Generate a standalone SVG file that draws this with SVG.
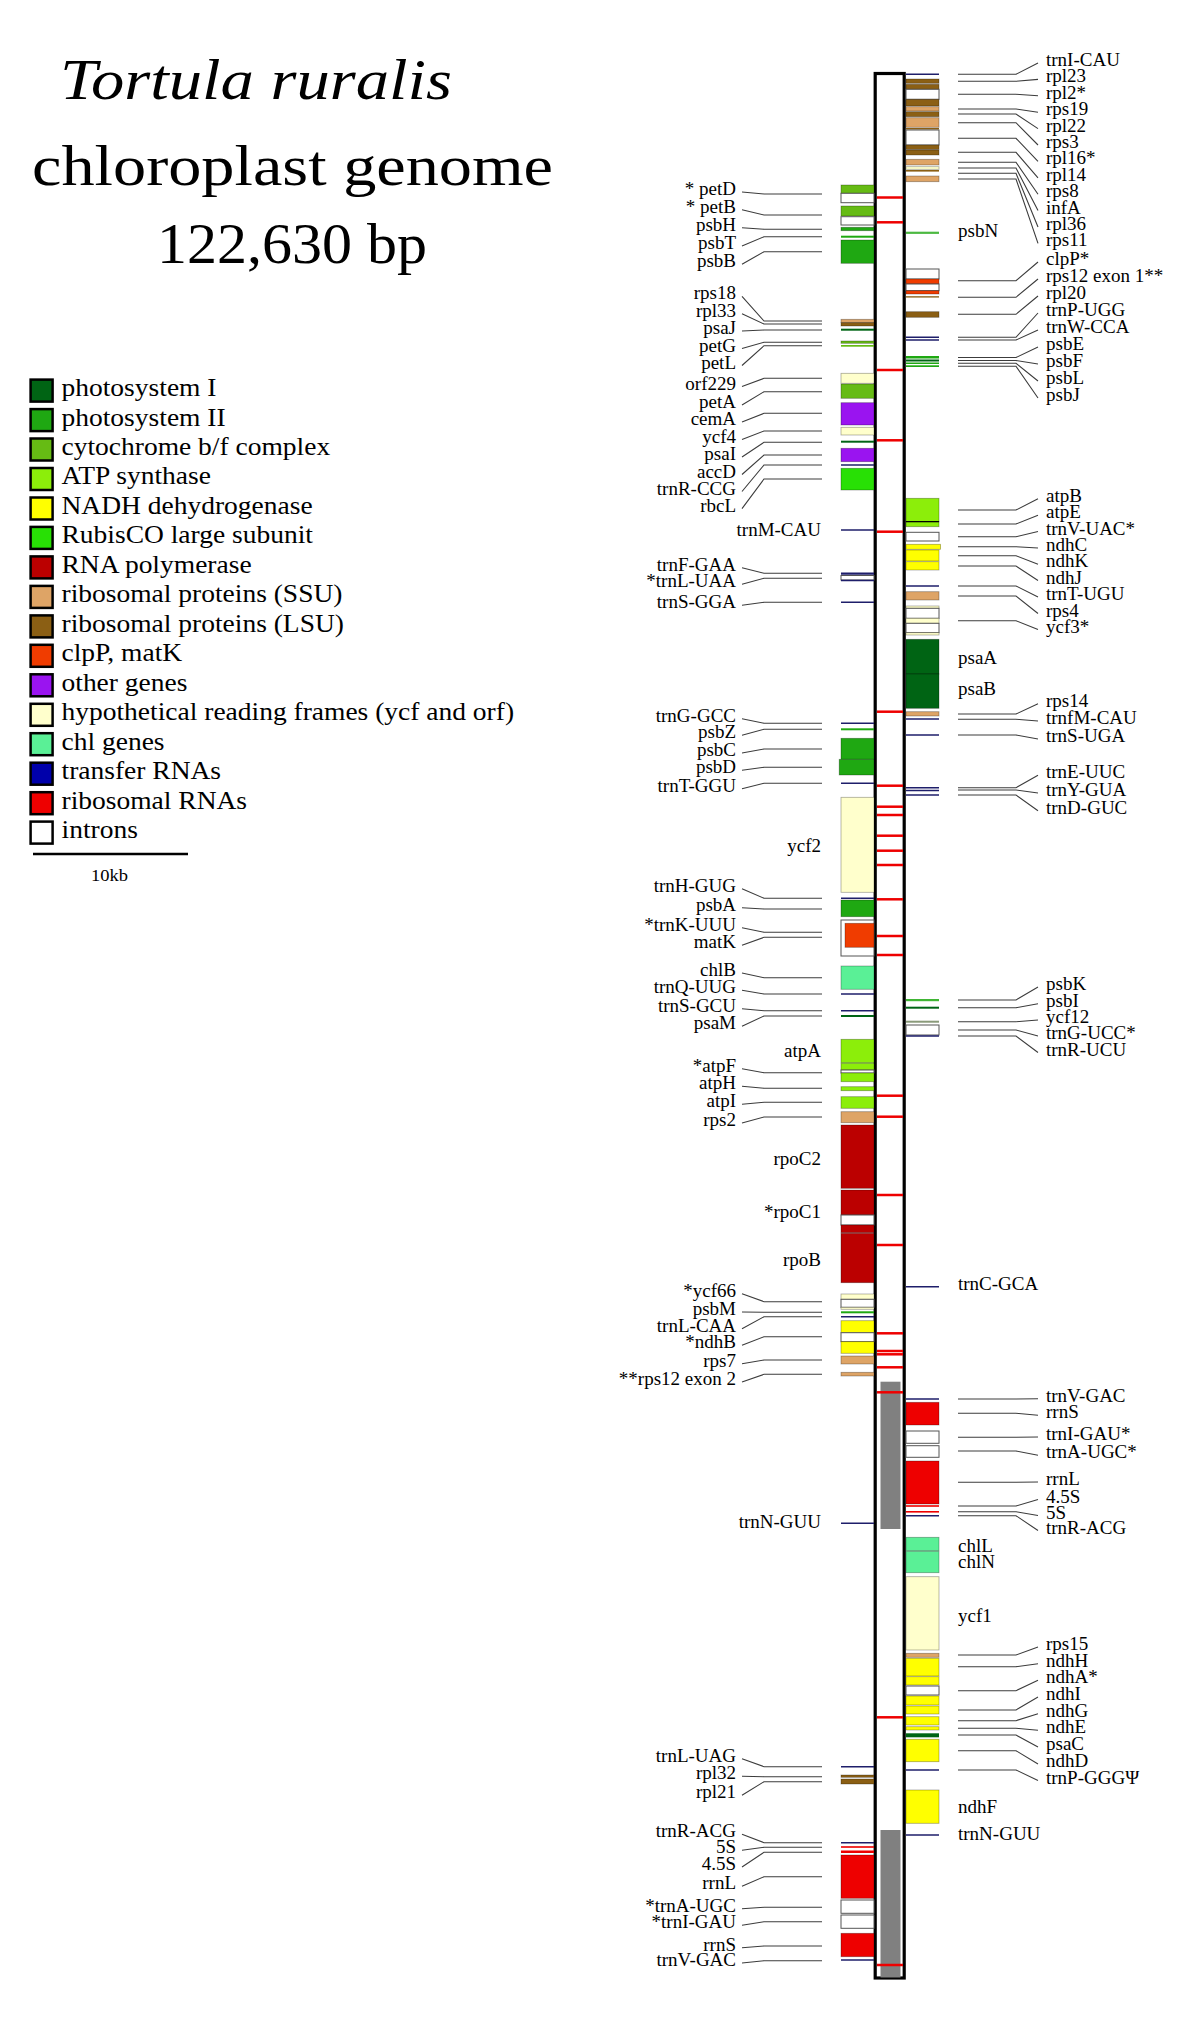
<svg xmlns="http://www.w3.org/2000/svg" width="1200" height="2025" viewBox="0 0 1200 2025">
<style>
text{font-family:"Liberation Serif","Times New Roman",serif;fill:#000}
.t{font-size:19px}
.e{text-anchor:end}
.b{stroke:#000;stroke-opacity:.35;stroke-width:.8}
.in{fill:#fff;stroke:#555;stroke-width:1}
.tr{stroke:#1e1e6a;stroke-width:1.6}
.ld{fill:none;stroke:#3c3c3c;stroke-width:1.1}
.rm{stroke:#ee0000;stroke-width:2.5}
.k1{fill:#006414}.k2{fill:#1fa812}.k3{fill:#66bb14}.k4{fill:#8cee0a}.k5{fill:#ffff00}.k6{fill:#28e005}.k7{fill:#bb0000}.k8{fill:#dea466}.k9{fill:#8b5f14}.k10{fill:#f03c00}.k11{fill:#9a14f0}.k12{fill:#ffffcc}.k13{fill:#5af096}.k14{fill:#0000aa}.k15{fill:#ee0000}.k16{fill:#fff}
.lg rect{stroke:#000;stroke-width:2.5}
</style>
<rect width="1200" height="2025" fill="#fff"/>
<g id="title">
<text x="60" y="99" font-size="56" font-style="italic" textLength="392" lengthAdjust="spacingAndGlyphs">Tortula ruralis</text>
<text x="32" y="185" font-size="57" textLength="521" lengthAdjust="spacingAndGlyphs">chloroplast genome</text>
<text x="157" y="263" font-size="57" textLength="270" lengthAdjust="spacingAndGlyphs">122,630 bp</text>
</g>
<g id="legend" class="lg">
<rect class="k1" x="30.6" y="379.6" width="22" height="22"/>
<rect class="k2" x="30.6" y="409.1" width="22" height="22"/>
<rect class="k3" x="30.6" y="438.5" width="22" height="22"/>
<rect class="k4" x="30.6" y="468" width="22" height="22"/>
<rect class="k5" x="30.6" y="497.5" width="22" height="22"/>
<rect class="k6" x="30.6" y="526.9" width="22" height="22"/>
<rect class="k7" x="30.6" y="556.4" width="22" height="22"/>
<rect class="k8" x="30.6" y="585.9" width="22" height="22"/>
<rect class="k9" x="30.6" y="615.4" width="22" height="22"/>
<rect class="k10" x="30.6" y="644.8" width="22" height="22"/>
<rect class="k11" x="30.6" y="674.3" width="22" height="22"/>
<rect class="k12" x="30.6" y="703.8" width="22" height="22"/>
<rect class="k13" x="30.6" y="733.2" width="22" height="22"/>
<rect class="k14" x="30.6" y="762.7" width="22" height="22"/>
<rect class="k15" x="30.6" y="792.2" width="22" height="22"/>
<rect class="k16" x="30.6" y="821.6" width="22" height="22"/>
<g transform="translate(61.5,0) scale(1.1,1)" font-size="25">
<text y="396">photosystem I</text>
<text y="425.5">photosystem II</text>
<text y="454.9">cytochrome b/f complex</text>
<text y="484.4">ATP synthase</text>
<text y="513.9">NADH dehydrogenase</text>
<text y="543.3">RubisCO large subunit</text>
<text y="572.8">RNA polymerase</text>
<text y="602.3">ribosomal proteins (SSU)</text>
<text y="631.8">ribosomal proteins (LSU)</text>
<text y="661.2">clpP, matK</text>
<text y="690.7">other genes</text>
<text y="720.2">hypothetical reading frames (ycf and orf)</text>
<text y="749.6">chl genes</text>
<text y="779.1">transfer RNAs</text>
<text y="808.6">ribosomal RNAs</text>
<text y="838">introns</text>
</g>
<line x1="33" y1="854" x2="188" y2="854" stroke="#000" stroke-width="2.5"/>
<text x="91" y="881" font-size="17" textLength="37" lengthAdjust="spacingAndGlyphs">10kb</text>
</g>
<g id="genome">
<rect x="875.2" y="73.5" width="29" height="1904.5" fill="#fff" stroke="#000" stroke-width="3.2"/>
<rect x="880.5" y="1381.7" width="20" height="147.3" fill="#808080"/>
<rect x="880.5" y="1830" width="20" height="147.5" fill="#808080"/>
<line class="rm" x1="877" x2="903" y1="197.5" y2="197.5" stroke-width="4.5"/>
<line class="rm" x1="877" x2="903" y1="222.3" y2="222.3" stroke-width="2"/>
<line class="rm" x1="877" x2="903" y1="370" y2="370" stroke-width="2"/>
<line class="rm" x1="877" x2="903" y1="440.3" y2="440.3" stroke-width="4"/>
<line class="rm" x1="877" x2="903" y1="531.7" y2="531.7"/>
<line class="rm" x1="877" x2="903" y1="711.7" y2="711.7"/>
<line class="rm" x1="877" x2="903" y1="785.7" y2="785.7"/>
<line class="rm" x1="877" x2="903" y1="806.7" y2="806.7"/>
<line class="rm" x1="877" x2="903" y1="815" y2="815"/>
<line class="rm" x1="877" x2="903" y1="835.7" y2="835.7"/>
<line class="rm" x1="877" x2="903" y1="850.7" y2="850.7"/>
<line class="rm" x1="877" x2="903" y1="865" y2="865"/>
<line class="rm" x1="877" x2="903" y1="899.3" y2="899.3"/>
<line class="rm" x1="877" x2="903" y1="936" y2="936"/>
<line class="rm" x1="877" x2="903" y1="955" y2="955"/>
<line class="rm" x1="877" x2="903" y1="1095.7" y2="1095.7"/>
<line class="rm" x1="877" x2="903" y1="1116.7" y2="1116.7"/>
<line class="rm" x1="877" x2="903" y1="1195" y2="1195"/>
<line class="rm" x1="877" x2="903" y1="1245" y2="1245"/>
<line class="rm" x1="877" x2="903" y1="1333.3" y2="1333.3"/>
<line class="rm" x1="877" x2="903" y1="1351" y2="1351"/>
<line class="rm" x1="877" x2="903" y1="1354.3" y2="1354.3"/>
<line class="rm" x1="877" x2="903" y1="1367.3" y2="1367.3"/>
<line class="rm" x1="877" x2="903" y1="1392.3" y2="1392.3"/>
<line class="rm" x1="877" x2="903" y1="1717.3" y2="1717.3"/>
<line class="rm" x1="877" x2="903" y1="1965" y2="1965"/>
</g>
<g id="connectors">
<polyline class="ld" points="822,194 764,194 742,192"/>
<polyline class="ld" points="822,215 764,215 742,209.7"/>
<polyline class="ld" points="822,229.3 764,229.3 742,227.7"/>
<polyline class="ld" points="822,236.7 764,236.7 742,246"/>
<polyline class="ld" points="822,251.7 764,251.7 742,264.3"/>
<polyline class="ld" points="822,321 764,321 742,296.3"/>
<polyline class="ld" points="822,324 764,324 742,313.7"/>
<polyline class="ld" points="822,330 764,330 742,331"/>
<polyline class="ld" points="822,342.3 764,342.3 742,348.5"/>
<polyline class="ld" points="822,345.7 764,345.7 742,365.5"/>
<polyline class="ld" points="822,378.3 764,378.3 742,386.5"/>
<polyline class="ld" points="822,391.7 764,391.7 742,405"/>
<polyline class="ld" points="822,413.3 764,413.3 742,422"/>
<polyline class="ld" points="822,431 764,431 742,439.5"/>
<polyline class="ld" points="822,442.3 764,442.3 742,457"/>
<polyline class="ld" points="822,455 764,455 742,474.5"/>
<polyline class="ld" points="822,465 764,465 742,491.5"/>
<polyline class="ld" points="822,479 764,479 742,508.7"/>
<polyline class="ld" points="822,573.3 764,573.3 742,567.7"/>
<polyline class="ld" points="822,578.3 764,578.3 742,584.3"/>
<polyline class="ld" points="822,602.3 764,602.3 742,605.3"/>
<polyline class="ld" points="822,723.3 764,723.3 742,718.7"/>
<polyline class="ld" points="822,729.3 764,729.3 742,735.3"/>
<polyline class="ld" points="822,749 764,749 742,753"/>
<polyline class="ld" points="822,767.3 764,767.3 742,770.3"/>
<polyline class="ld" points="822,783.3 764,783.3 742,788.7"/>
<polyline class="ld" points="822,898.3 764,898.3 742,888.7"/>
<polyline class="ld" points="822,909 764,909 742,907.7"/>
<polyline class="ld" points="822,932.3 764,932.3 742,927.7"/>
<polyline class="ld" points="822,937.3 764,937.3 742,945.3"/>
<polyline class="ld" points="822,977.7 764,977.7 742,973"/>
<polyline class="ld" points="822,994 764,994 742,990.3"/>
<polyline class="ld" points="822,1010.7 764,1010.7 742,1008.7"/>
<polyline class="ld" points="822,1016 764,1016 742,1026.3"/>
<polyline class="ld" points="822,1072.7 764,1072.7 742,1068.7"/>
<polyline class="ld" points="822,1088.3 764,1088.3 742,1086.3"/>
<polyline class="ld" points="822,1102.3 764,1102.3 742,1104.3"/>
<polyline class="ld" points="822,1117 764,1117 742,1123"/>
<polyline class="ld" points="822,1301.7 764,1301.7 742,1293.7"/>
<polyline class="ld" points="822,1312.3 764,1312.3 742,1312"/>
<polyline class="ld" points="822,1316.7 764,1316.7 742,1328.7"/>
<polyline class="ld" points="822,1336.7 764,1336.7 742,1345.3"/>
<polyline class="ld" points="822,1360 764,1360 742,1363.7"/>
<polyline class="ld" points="822,1374.3 764,1374.3 742,1382"/>
<polyline class="ld" points="822,1766.7 764,1766.7 742,1758.7"/>
<polyline class="ld" points="822,1776.7 764,1776.7 742,1776.3"/>
<polyline class="ld" points="822,1781.7 764,1781.7 742,1795.3"/>
<polyline class="ld" points="822,1842.7 764,1842.7 742,1834.3"/>
<polyline class="ld" points="822,1847.3 764,1847.3 742,1850.3"/>
<polyline class="ld" points="822,1852.3 764,1852.3 742,1867"/>
<polyline class="ld" points="822,1876.7 764,1876.7 742,1886.3"/>
<polyline class="ld" points="822,1907.3 764,1907.3 742,1908.7"/>
<polyline class="ld" points="822,1921.7 764,1921.7 742,1925.3"/>
<polyline class="ld" points="822,1946 764,1946 742,1947.7"/>
<polyline class="ld" points="822,1960.7 764,1960.7 742,1963"/>
<polyline class="ld" points="958,74.3 1016,74.3 1038,63"/>
<polyline class="ld" points="958,81.3 1016,81.3 1038,79.4"/>
<polyline class="ld" points="958,94.3 1016,94.3 1038,95.8"/>
<polyline class="ld" points="958,109 1016,109 1038,112.2"/>
<polyline class="ld" points="958,114 1016,114 1038,128.6"/>
<polyline class="ld" points="958,122.7 1016,122.7 1038,145"/>
<polyline class="ld" points="958,138.3 1016,138.3 1038,161.4"/>
<polyline class="ld" points="958,152.3 1016,152.3 1038,177.8"/>
<polyline class="ld" points="958,162.3 1016,162.3 1038,194.2"/>
<polyline class="ld" points="958,168 1016,168 1038,210.6"/>
<polyline class="ld" points="958,173.3 1016,173.3 1038,227"/>
<polyline class="ld" points="958,179 1016,179 1038,243.4"/>
<polyline class="ld" points="958,280.7 1016,280.7 1038,262"/>
<polyline class="ld" points="958,297.3 1016,297.3 1038,279"/>
<polyline class="ld" points="958,314.3 1016,314.3 1038,296"/>
<polyline class="ld" points="958,337.3 1016,337.3 1038,313"/>
<polyline class="ld" points="958,340 1016,340 1038,330"/>
<polyline class="ld" points="958,357.5 1016,357.5 1038,347"/>
<polyline class="ld" points="958,360.5 1016,360.5 1038,364"/>
<polyline class="ld" points="958,363.3 1016,363.3 1038,381"/>
<polyline class="ld" points="958,366.3 1016,366.3 1038,398"/>
<polyline class="ld" points="958,510 1016,510 1038,498.7"/>
<polyline class="ld" points="958,524 1016,524 1038,515.3"/>
<polyline class="ld" points="958,536.7 1016,536.7 1038,531.5"/>
<polyline class="ld" points="958,546.7 1016,546.7 1038,548"/>
<polyline class="ld" points="958,555.7 1016,555.7 1038,564.3"/>
<polyline class="ld" points="958,566 1016,566 1038,580.5"/>
<polyline class="ld" points="958,586 1016,586 1038,597"/>
<polyline class="ld" points="958,596 1016,596 1038,613.5"/>
<polyline class="ld" points="958,620.7 1016,620.7 1038,629.5"/>
<polyline class="ld" points="958,714 1016,714 1038,703.7"/>
<polyline class="ld" points="958,719.3 1016,719.3 1038,721"/>
<polyline class="ld" points="958,735 1016,735 1038,739"/>
<polyline class="ld" points="958,787.7 1016,787.7 1038,775.3"/>
<polyline class="ld" points="958,790 1016,790 1038,793"/>
<polyline class="ld" points="958,795 1016,795 1038,810.7"/>
<polyline class="ld" points="958,1000 1016,1000 1038,987"/>
<polyline class="ld" points="958,1007.7 1016,1007.7 1038,1003.7"/>
<polyline class="ld" points="958,1021.7 1016,1021.7 1038,1020"/>
<polyline class="ld" points="958,1030 1016,1030 1038,1036"/>
<polyline class="ld" points="958,1036 1016,1036 1038,1052.5"/>
<polyline class="ld" points="958,1399 1016,1399 1038,1398.7"/>
<polyline class="ld" points="958,1413.3 1016,1413.3 1038,1415.3"/>
<polyline class="ld" points="958,1437.3 1016,1437.3 1038,1437"/>
<polyline class="ld" points="958,1451 1016,1451 1038,1455.3"/>
<polyline class="ld" points="958,1482.3 1016,1482.3 1038,1482"/>
<polyline class="ld" points="958,1506 1016,1506 1038,1499.5"/>
<polyline class="ld" points="958,1511.7 1016,1511.7 1038,1515.5"/>
<polyline class="ld" points="958,1515.7 1016,1515.7 1038,1530.5"/>
<polyline class="ld" points="958,1655 1016,1655 1038,1647"/>
<polyline class="ld" points="958,1666.7 1016,1666.7 1038,1663.7"/>
<polyline class="ld" points="958,1690.7 1016,1690.7 1038,1680.3"/>
<polyline class="ld" points="958,1710 1016,1710 1038,1697"/>
<polyline class="ld" points="958,1720.7 1016,1720.7 1038,1713.7"/>
<polyline class="ld" points="958,1728.3 1016,1728.3 1038,1730.3"/>
<polyline class="ld" points="958,1735 1016,1735 1038,1747"/>
<polyline class="ld" points="958,1750.7 1016,1750.7 1038,1764"/>
<polyline class="ld" points="958,1770 1016,1770 1038,1780.5"/>
</g>
<g id="left-genes">
<g id="petD"><rect class="b k3" x="841" y="185" width="33" height="8.3"/><rect class="in" x="841" y="193.3" width="33" height="9.4"/><text class="t e" x="736" y="195">* petD</text></g>
<g id="petB"><rect class="b k3" x="841" y="206" width="33" height="10"/><rect class="in" x="841" y="216.7" width="33" height="8.3"/><text class="t e" x="736" y="212.7">* petB</text></g>
<g id="psbH"><rect class="b k2" x="841" y="227.3" width="33" height="3.4"/><text class="t e" x="736" y="230.7">psbH</text></g>
<g id="psbT"><rect class="k2" x="841" y="235.7" width="33" height="2"/><text class="t e" x="736" y="249">psbT</text></g>
<g id="psbB"><rect class="b k2" x="841" y="240" width="33" height="23.3"/><text class="t e" x="736" y="267.3">psbB</text></g>
<g id="rps18"><rect class="b k8" x="841" y="319.3" width="33" height="3.4"/><text class="t e" x="736" y="299.3">rps18</text></g>
<g id="rpl33"><rect class="b k9" x="841" y="322.7" width="33" height="3.3"/><text class="t e" x="736" y="316.7">rpl33</text></g>
<g id="psaJ"><rect class="k1" x="841" y="328.7" width="33" height="2"/><text class="t e" x="736" y="334">psaJ</text></g>
<g id="petG"><rect class="b k3" x="841" y="341" width="33" height="2.3"/><text class="t e" x="736" y="351.5">petG</text></g>
<g id="petL"><rect class="k3" x="841" y="345" width="33" height="1.7"/><text class="t e" x="736" y="368.5">petL</text></g>
<g id="orf229"><rect class="b k12" x="841" y="373.3" width="33" height="10"/><text class="t e" x="736" y="389.5">orf229</text></g>
<g id="petA"><rect class="b k3" x="841" y="384" width="33" height="14.3"/><text class="t e" x="736" y="408">petA</text></g>
<g id="cemA"><rect class="b k11" x="841" y="402.7" width="33" height="22.3"/><text class="t e" x="736" y="425">cemA</text></g>
<g id="ycf4"><rect class="b k12" x="841" y="427.3" width="33" height="7.7"/><text class="t e" x="736" y="442.5">ycf4</text></g>
<g id="psaI"><rect class="k1" x="841" y="440.7" width="33" height="2"/><text class="t e" x="736" y="460">psaI</text></g>
<g id="accD"><rect class="b k11" x="841" y="448.3" width="33" height="13.4"/><text class="t e" x="736" y="477.5">accD</text></g>
<g id="trnR-CCG"><line class="tr" x1="841" x2="874" y1="465" y2="465"/><text class="t e" x="736" y="494.5">trnR-CCG</text></g>
<g id="rbcL"><rect class="b k6" x="841" y="468.3" width="33" height="21.7"/><text class="t e" x="736" y="511.7">rbcL</text></g>
<g id="trnM-CAU"><line class="tr" x1="841" x2="874" y1="530" y2="530"/><text class="t e" x="821" y="536">trnM-CAU</text></g>
<g id="trnF-GAA"><line class="tr" x1="841" x2="874" y1="573.3" y2="573.3"/><text class="t e" x="736" y="570.7">trnF-GAA</text></g>
<g id="trnL-UAA"><line class="tr" x1="841" x2="874" y1="575" y2="575"/><rect class="in" x="841" y="575.5" width="33" height="4.5"/><line class="tr" x1="841" x2="874" y1="580.5" y2="580.5"/><text class="t e" x="736" y="587.3">*trnL-UAA</text></g>
<g id="trnS-GGA"><line class="tr" x1="841" x2="874" y1="602.3" y2="602.3"/><text class="t e" x="736" y="608.3">trnS-GGA</text></g>
<g id="trnG-GCC"><line class="tr" x1="841" x2="874" y1="723.3" y2="723.3"/><text class="t e" x="736" y="721.7">trnG-GCC</text></g>
<g id="psbZ"><rect class="k2" x="841" y="728.3" width="33" height="2"/><text class="t e" x="736" y="738.3">psbZ</text></g>
<g id="psbC"><rect class="b k2" x="841" y="738.3" width="33" height="21"/><text class="t e" x="736" y="756">psbC</text></g>
<g id="psbD"><rect class="b k2" x="839.2" y="759.3" width="34.8" height="15.7"/><text class="t e" x="736" y="773.3">psbD</text></g>
<g id="trnT-GGU"><line class="tr" x1="841" x2="874" y1="783.3" y2="783.3"/><text class="t e" x="736" y="791.7">trnT-GGU</text></g>
<g id="ycf2"><rect class="b k12" x="841" y="797.3" width="33" height="95"/><text class="t e" x="821" y="851.7">ycf2</text></g>
<g id="trnH-GUG"><line class="tr" x1="841" x2="874" y1="898.3" y2="898.3"/><text class="t e" x="736" y="891.7">trnH-GUG</text></g>
<g id="psbA"><rect class="b k2" x="841" y="900" width="33" height="16.7"/><text class="t e" x="736" y="910.7">psbA</text></g>
<g id="trnK-UUU"><rect class="in" x="841" y="920" width="33" height="36" stroke="#111"/><text class="t e" x="736" y="930.7">*trnK-UUU</text></g>
<g id="matK"><rect class="b k10" x="845" y="923.3" width="29" height="24"/><text class="t e" x="736" y="948.3">matK</text></g>
<g id="chlB"><rect class="b k13" x="841" y="966" width="33" height="23.3"/><text class="t e" x="736" y="976">chlB</text></g>
<g id="trnQ-UUG"><line class="tr" x1="841" x2="874" y1="994" y2="994"/><text class="t e" x="736" y="993.3">trnQ-UUG</text></g>
<g id="trnS-GCU"><line class="tr" x1="841" x2="874" y1="1010.7" y2="1010.7"/><text class="t e" x="736" y="1011.7">trnS-GCU</text></g>
<g id="psaM"><rect class="k1" x="841" y="1015" width="33" height="2"/><text class="t e" x="736" y="1029.3">psaM</text></g>
<g id="atpA"><rect class="b k4" x="841" y="1039.3" width="33" height="23.4"/><text class="t e" x="821" y="1056.7">atpA</text></g>
<g id="atpF"><rect class="b k4" x="841" y="1063.3" width="33" height="6.7"/><rect class="in" x="841" y="1070" width="33" height="3"/><rect class="b k4" x="841" y="1073" width="33" height="8.7"/><text class="t e" x="736" y="1071.7">*atpF</text></g>
<g id="atpH"><rect class="b k4" x="841" y="1086.7" width="33" height="4"/><text class="t e" x="736" y="1089.3">atpH</text></g>
<g id="atpI"><rect class="b k4" x="841" y="1096.7" width="33" height="11.6"/><text class="t e" x="736" y="1107.3">atpI</text></g>
<g id="rps2"><rect class="b k8" x="841" y="1111.7" width="33" height="11"/><text class="t e" x="736" y="1126">rps2</text></g>
<g id="rpoC2"><rect class="b k7" x="841" y="1125" width="33" height="63.3"/><text class="t e" x="821" y="1165">rpoC2</text></g>
<g id="rpoC1"><rect class="b k7" x="841" y="1190" width="33" height="25"/><rect class="in" x="841" y="1215" width="33" height="10"/><rect class="b k7" x="841" y="1225" width="33" height="7.7"/><text class="t e" x="821" y="1218.3">*rpoC1</text></g>
<g id="rpoB"><rect class="b k7" x="841" y="1233.3" width="33" height="49.4"/><text class="t e" x="821" y="1266">rpoB</text></g>
<g id="ycf66"><rect class="b k12" x="841" y="1294" width="33" height="5.3"/><rect class="in" x="841" y="1299.3" width="33" height="8"/><rect class="b k12" x="841" y="1307.3" width="33" height="2"/><text class="t e" x="736" y="1296.7">*ycf66</text></g>
<g id="psbM"><rect class="k2" x="841" y="1311.3" width="33" height="2"/><text class="t e" x="736" y="1315">psbM</text></g>
<g id="trnL-CAA"><line class="tr" x1="841" x2="874" y1="1316.7" y2="1316.7"/><text class="t e" x="736" y="1331.7">trnL-CAA</text></g>
<g id="ndhB"><rect class="b k5" x="841" y="1320.7" width="33" height="12"/><rect class="in" x="841" y="1332.7" width="33" height="9"/><rect class="b k5" x="841" y="1341.7" width="33" height="11.6"/><text class="t e" x="736" y="1348.3">*ndhB</text></g>
<g id="rps7"><rect class="b k8" x="841" y="1356" width="33" height="8"/><text class="t e" x="736" y="1366.7">rps7</text></g>
<g id="rps12-exon2"><rect class="b k8" x="841" y="1372.3" width="33" height="3.7"/><text class="t e" x="736" y="1385">**rps12 exon 2</text></g>
<g id="trnN-GUU-a"><line class="tr" x1="841" x2="874" y1="1523.3" y2="1523.3"/><text class="t e" x="821" y="1528.3">trnN-GUU</text></g>
<g id="trnL-UAG"><line class="tr" x1="841" x2="874" y1="1766.7" y2="1766.7"/><text class="t e" x="736" y="1761.7">trnL-UAG</text></g>
<g id="rpl32"><rect class="b k9" x="841" y="1775" width="33" height="2.3"/><text class="t e" x="736" y="1779.3">rpl32</text></g>
<g id="rpl21"><rect class="b k9" x="841" y="1779" width="33" height="5"/><text class="t e" x="736" y="1798.3">rpl21</text></g>
<g id="trnR-ACG-a"><line class="tr" x1="841" x2="874" y1="1842.7" y2="1842.7"/><text class="t e" x="736" y="1837.3">trnR-ACG</text></g>
<g id="rrn5-a"><rect class="k15" x="841" y="1846.2" width="33" height="1.6"/><text class="t e" x="736" y="1853.3">5S</text></g>
<g id="rrn4.5-a"><rect class="k15" x="841" y="1850.5" width="33" height="2.5"/><text class="t e" x="736" y="1870">4.5S</text></g>
<g id="rrnL-a"><rect class="b k15" x="841" y="1855" width="33" height="43.3"/><text class="t e" x="736" y="1889.3">rrnL</text></g>
<g id="trnA-UGC-a"><rect class="in" x="841" y="1900" width="33" height="13.3"/><text class="t e" x="736" y="1911.7">*trnA-UGC</text></g>
<g id="trnI-GAU-a"><rect class="in" x="841" y="1915" width="33" height="13.3"/><text class="t e" x="736" y="1928.3">*trnI-GAU</text></g>
<g id="rrnS-a"><rect class="b k15" x="841" y="1933.3" width="33" height="23.4"/><text class="t e" x="736" y="1950.7">rrnS</text></g>
<g id="trnV-GAC-a"><line class="tr" x1="841" x2="874" y1="1960" y2="1960"/><text class="t e" x="736" y="1966">trnV-GAC</text></g>
</g>
<g id="right-genes">
<g id="trnI-CAU"><line class="tr" x1="906" x2="939" y1="74.3" y2="74.3"/><text class="t" x="1046" y="66">trnI-CAU</text></g>
<g id="rpl23"><rect class="b k9" x="906" y="79" width="33" height="4.3"/><text class="t" x="1046" y="82.4">rpl23</text></g>
<g id="rpl2"><rect class="b k9" x="906" y="84.3" width="33" height="5"/><rect class="in" x="906" y="89.3" width="33" height="10"/><rect class="b k9" x="906" y="99.3" width="33" height="6.7"/><text class="t" x="1046" y="98.8">rpl2*</text></g>
<g id="rps19"><rect class="b k8" x="906" y="106.7" width="33" height="4.3"/><text class="t" x="1046" y="115.2">rps19</text></g>
<g id="rpl22"><rect class="b k9" x="906" y="111.7" width="33" height="5"/><text class="t" x="1046" y="131.6">rpl22</text></g>
<g id="rps3"><rect class="b k8" x="906" y="117.7" width="33" height="9.6"/><text class="t" x="1046" y="148">rps3</text></g>
<g id="rpl16"><rect class="k9" x="906" y="128" width="33" height="1.5"/><rect class="in" x="906" y="130" width="33" height="15"/><rect class="b k9" x="906" y="145" width="33" height="4.5"/><text class="t" x="1046" y="164.4">rpl16*</text></g>
<g id="rpl14"><rect class="b k9" x="906" y="150" width="33" height="5"/><text class="t" x="1046" y="180.8">rpl14</text></g>
<g id="rps8"><rect class="b k8" x="906" y="159.3" width="33" height="5.7"/><text class="t" x="1046" y="197.2">rps8</text></g>
<g id="infA"><rect class="b k12" x="906" y="166.7" width="33" height="2.6"/><text class="t" x="1046" y="213.6">infA</text></g>
<g id="rpl36"><rect class="k9" x="906" y="170" width="33" height="1.6"/><text class="t" x="1046" y="230">rpl36</text></g>
<g id="rps11"><rect class="b k8" x="906" y="176" width="33" height="5.7"/><text class="t" x="1046" y="246.4">rps11</text></g>
<g id="psbN"><rect class="k2" x="906" y="231.7" width="33" height="2.2" opacity=".8"/><text class="t" x="958" y="236.7">psbN</text></g>
<g id="clpP"><rect class="in" x="906" y="269" width="33" height="10" stroke="#7a3a20"/><rect class="b k10" x="906" y="279" width="33" height="5"/><rect class="in" x="906" y="284" width="33" height="6.7" stroke="#7a3a20"/><rect class="b k10" x="906" y="290.7" width="33" height="3.3"/><text class="t" x="1046" y="265">clpP*</text></g>
<g id="rps12-exon1"><rect class="k9" x="906" y="296" width="33" height="1.7" opacity=".8"/><text class="t" x="1046" y="282">rps12 exon 1**</text></g>
<g id="rpl20"><rect class="b k9" x="906" y="311.7" width="33" height="5.6"/><text class="t" x="1046" y="299">rpl20</text></g>
<g id="trnP-UGG"><line class="tr" x1="906" x2="939" y1="337.3" y2="337.3"/><text class="t" x="1046" y="316">trnP-UGG</text></g>
<g id="trnW-CCA"><line class="tr" x1="906" x2="939" y1="340" y2="340"/><text class="t" x="1046" y="333">trnW-CCA</text></g>
<g id="psbE"><rect class="k2" x="906" y="356" width="33" height="2.5"/><text class="t" x="1046" y="350">psbE</text></g>
<g id="psbF"><rect class="k1" x="906" y="359.5" width="33" height="2"/><text class="t" x="1046" y="367">psbF</text></g>
<g id="psbL"><rect class="k2" x="906" y="362.5" width="33" height="1.5"/><text class="t" x="1046" y="384">psbL</text></g>
<g id="psbJ"><rect class="k2" x="906" y="365.3" width="33" height="1.7"/><text class="t" x="1046" y="401">psbJ</text></g>
<g id="atpB"><rect class="b k4" x="906" y="498.3" width="33" height="23.4"/><text class="t" x="1046" y="501.7">atpB</text></g>
<g id="atpE"><rect class="b k4" x="906" y="521.7" width="33" height="5"/><line x1="906" x2="939" y1="521.7" y2="521.7" stroke="#000" stroke-width="1.2"/><text class="t" x="1046" y="518.3">atpE</text></g>
<g id="trnV-UAC"><rect class="in" x="906" y="532.3" width="33" height="8.7"/><text class="t" x="1046" y="534.5">trnV-UAC*</text></g>
<g id="ndhC"><rect class="b k5" x="906" y="544.3" width="34.6" height="5"/><text class="t" x="1046" y="551">ndhC</text></g>
<g id="ndhK"><rect class="b k5" x="906" y="550" width="33" height="11"/><text class="t" x="1046" y="567.3">ndhK</text></g>
<g id="ndhJ"><rect class="b k5" x="906" y="561.7" width="33" height="8.3"/><text class="t" x="1046" y="583.5">ndhJ</text></g>
<g id="trnT-UGU"><line class="tr" x1="906" x2="939" y1="586" y2="586"/><text class="t" x="1046" y="600">trnT-UGU</text></g>
<g id="rps4"><rect class="b k8" x="906" y="591.7" width="33" height="8.3"/><text class="t" x="1046" y="616.5">rps4</text></g>
<g id="ycf3"><rect class="b k12" x="906" y="606" width="33" height="2.3"/><rect class="in" x="906" y="608.3" width="33" height="10"/><rect class="b k12" x="906" y="618.3" width="33" height="5"/><rect class="in" x="906" y="623.3" width="33" height="9.4"/><rect class="b k12" x="906" y="632.7" width="33" height="2.3"/><text class="t" x="1046" y="632.5">ycf3*</text></g>
<g id="psaA"><rect class="b k1" x="906" y="639.3" width="33" height="34.7"/><text class="t" x="958" y="664">psaA</text></g>
<g id="psaB"><rect class="b k1" x="906" y="674" width="33" height="34.3"/><text class="t" x="958" y="695">psaB</text></g>
<g id="rps14"><rect class="b k8" x="906" y="711.7" width="33" height="4.3"/><text class="t" x="1046" y="706.7">rps14</text></g>
<g id="trnfM-CAU"><line class="tr" x1="906" x2="939" y1="719" y2="719"/><text class="t" x="1046" y="724">trnfM-CAU</text></g>
<g id="trnS-UGA"><line class="tr" x1="906" x2="939" y1="735" y2="735"/><text class="t" x="1046" y="742">trnS-UGA</text></g>
<g id="trnE-UUC"><line class="tr" x1="906" x2="939" y1="787.7" y2="787.7"/><text class="t" x="1046" y="778.3">trnE-UUC</text></g>
<g id="trnY-GUA"><line class="tr" x1="906" x2="939" y1="790.5" y2="790.5"/><text class="t" x="1046" y="796">trnY-GUA</text></g>
<g id="trnD-GUC"><line class="tr" x1="906" x2="939" y1="795" y2="795"/><text class="t" x="1046" y="813.7">trnD-GUC</text></g>
<g id="psbK"><rect class="k2" x="906" y="999" width="33" height="2.2" opacity=".85"/><text class="t" x="1046" y="990">psbK</text></g>
<g id="psbI"><rect class="k1" x="906" y="1006.7" width="33" height="2"/><text class="t" x="1046" y="1006.7">psbI</text></g>
<g id="ycf12"><rect x="906" y="1020.7" width="33" height="2" fill="#8a9a7a"/><text class="t" x="1046" y="1023">ycf12</text></g>
<g id="trnG-UCC"><rect class="in" x="906" y="1025" width="33" height="10"/><text class="t" x="1046" y="1039">trnG-UCC*</text></g>
<g id="trnR-UCU"><line class="tr" x1="906" x2="939" y1="1036" y2="1036" stroke="#6a6a9a"/><text class="t" x="1046" y="1055.5">trnR-UCU</text></g>
<g id="trnC-GCA"><line class="tr" x1="906" x2="939" y1="1286.7" y2="1286.7"/><text class="t" x="958" y="1290">trnC-GCA</text></g>
<g id="trnV-GAC-b"><line class="tr" x1="906" x2="939" y1="1399" y2="1399"/><text class="t" x="1046" y="1401.7">trnV-GAC</text></g>
<g id="rrnS-b"><rect class="b k15" x="906" y="1402.3" width="33" height="22.7"/><text class="t" x="1046" y="1418.3">rrnS</text></g>
<g id="trnI-GAU-b"><rect class="in" x="906" y="1431" width="33" height="12.3"/><text class="t" x="1046" y="1440">trnI-GAU*</text></g>
<g id="trnA-UGC-b"><rect class="in" x="906" y="1445.7" width="33" height="11.6"/><text class="t" x="1046" y="1458.3">trnA-UGC*</text></g>
<g id="rrnL-b"><rect class="b k15" x="906" y="1461" width="33" height="43"/><text class="t" x="1046" y="1485">rrnL</text></g>
<g id="rrn4.5-b"><rect class="k15" x="906" y="1505.2" width="33" height="1.6"/><text class="t" x="1046" y="1502.5">4.5S</text></g>
<g id="rrn5-b"><rect class="k15" x="906" y="1511" width="33" height="1.6"/><text class="t" x="1046" y="1518.5">5S</text></g>
<g id="trnR-ACG-b"><line class="tr" x1="906" x2="939" y1="1515.7" y2="1515.7"/><text class="t" x="1046" y="1533.5">trnR-ACG</text></g>
<g id="chlL"><rect class="b k13" x="906" y="1537.3" width="33" height="13.4"/><text class="t" x="958" y="1551.7">chlL</text></g>
<g id="chlN"><rect class="b k13" x="906" y="1551.3" width="33" height="21.4"/><text class="t" x="958" y="1568.3">chlN</text></g>
<g id="ycf1"><rect class="b k12" x="906" y="1576.7" width="33" height="73.3"/><text class="t" x="958" y="1621.7">ycf1</text></g>
<g id="rps15"><rect class="b k8" x="906" y="1653.3" width="33" height="4"/><text class="t" x="1046" y="1650">rps15</text></g>
<g id="ndhH"><rect class="b k5" x="906" y="1658.3" width="33" height="17.7"/><text class="t" x="1046" y="1666.7">ndhH</text></g>
<g id="ndhA"><rect class="b k5" x="906" y="1676.7" width="33" height="8.3"/><rect class="in" x="906" y="1686" width="33" height="9"/><rect class="b k5" x="906" y="1696" width="33" height="9"/><text class="t" x="1046" y="1683.3">ndhA*</text></g>
<g id="ndhI"><rect class="b k5" x="906" y="1706" width="33" height="8"/><text class="t" x="1046" y="1700">ndhI</text></g>
<g id="ndhG"><rect class="b k5" x="906" y="1716.7" width="33" height="8.3"/><text class="t" x="1046" y="1716.7">ndhG</text></g>
<g id="ndhE"><rect class="b k5" x="906" y="1726.7" width="33" height="3.3"/><text class="t" x="1046" y="1733.3">ndhE</text></g>
<g id="psaC"><rect class="k1" x="906" y="1733.3" width="33" height="4"/><text class="t" x="1046" y="1750">psaC</text></g>
<g id="ndhD"><rect class="b k5" x="906" y="1739.3" width="33" height="22.4"/><text class="t" x="1046" y="1767">ndhD</text></g>
<g id="trnP-GGG"><line class="tr" x1="906" x2="939" y1="1770" y2="1770"/><text class="t" x="1046" y="1783.5">trnP-GGGΨ</text></g>
<g id="ndhF"><rect class="b k5" x="906" y="1790" width="33" height="33.3"/><text class="t" x="958" y="1813.3">ndhF</text></g>
<g id="trnN-GUU-b"><line class="tr" x1="906" x2="939" y1="1835" y2="1835"/><text class="t" x="958" y="1840">trnN-GUU</text></g>
</g>
</svg>
